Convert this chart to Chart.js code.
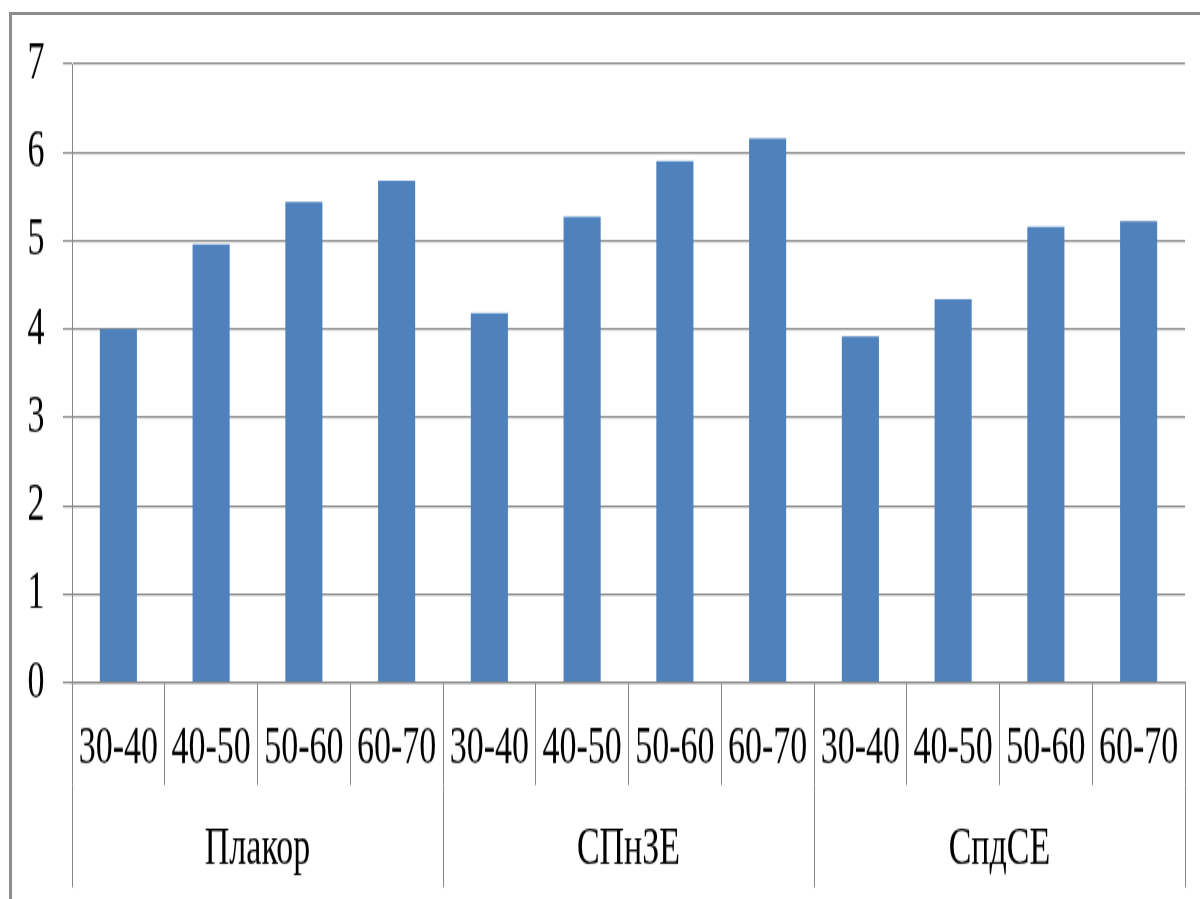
<!DOCTYPE html>
<html>
<head>
<meta charset="utf-8">
<title>Распределение по возрастным группам</title>
<script src="https://cdn.jsdelivr.net/npm/chart.js@4/dist/chart.umd.min.js"></script>
<style>
  html, body { margin: 0; padding: 0; background: #ffffff; }
  body { width: 1200px; height: 899px; position: relative; overflow: hidden; }
  #plot { position: absolute; left: 0; top: 0; }
  #frame {
    position: absolute; left: 9px; top: 12px; width: 1300px; height: 1000px;
    border-top: 3px solid #8c8c8c; border-left: 3px solid #8c8c8c;
    pointer-events: none;
  }
</style>
</head>
<body>
<!-- drawn on a short canvas and stretched tall, giving the narrow serif lettering -->
<canvas id="plot" width="1200" height="562" style="width:1200px;height:899px;"></canvas>
<div id="frame"></div>
<script>
const ageBands = ['30-40', '40-50', '50-60', '60-70'];
const groups = ['Плакор', 'СПнЗЕ', 'СпдСЕ'];
const plakorValues = [4.00, 4.96, 5.44, 5.68];
const spnzeValues = [4.18, 5.27, 5.90, 6.16];
const spdseValues = [3.92, 4.34, 5.16, 5.22];
const yMin = 0;
const yMax = 7;
const yStep = 1;

const categories = groups.flatMap(() => ageBands);
const values = [...plakorValues, ...spnzeValues, ...spdseValues];

const FONT = { family: '"Liberation Serif", "Times New Roman", serif', size: 34 };
const LINE = '#878787';

new Chart(document.getElementById('plot'), {
  type: 'bar',
  data: {
    labels: categories,
    datasets: [{
      data: values,
      backgroundColor: '#4f81bd',
      borderWidth: 0,
      categoryPercentage: 1.0,
      barPercentage: 0.4,
      xAxisID: 'x',
      yAxisID: 'y'
    }]
  },
  options: {
    responsive: false,
    devicePixelRatio: 1,
    animation: false,
    layout: { padding: { top: 40, bottom: 7.3, left: 10, right: 15 } },
    plugins: { legend: { display: false }, tooltip: { enabled: false } },
    scales: {
      y: {
        min: yMin, max: yMax,
        ticks: { stepSize: yStep, color: '#000', font: FONT, padding: 18.5 },
        grid: { color: LINE, lineWidth: 1.2, tickLength: 9, drawTicks: true },
        border: { color: LINE, width: 1 },
        afterFit: (s) => { s.width = 62; }
      },
      x: {
        position: 'bottom',
        offset: true,
        ticks: { color: '#000', font: FONT, padding: -42.8, maxRotation: 0, autoSkip: false },
        grid: { offset: true, drawOnChartArea: false, color: LINE, lineWidth: 1, tickLength: 64 },
        border: { color: LINE, width: 1.2 },
        afterFit: (s) => { s.height = 64; }
      },
      group: {
        type: 'category',
        position: 'bottom',
        labels: groups,
        offset: true,
        ticks: { color: '#000', font: FONT, padding: -43.7, maxRotation: 0, autoSkip: false },
        grid: { offset: true, drawOnChartArea: false, color: LINE, lineWidth: 1, tickLength: 64 },
        border: { display: false, width: 0, color: 'rgba(0,0,0,0)' },
        afterFit: (s) => { s.height = 64; }
      }
    }
  }
});
</script>
</body>
</html>
